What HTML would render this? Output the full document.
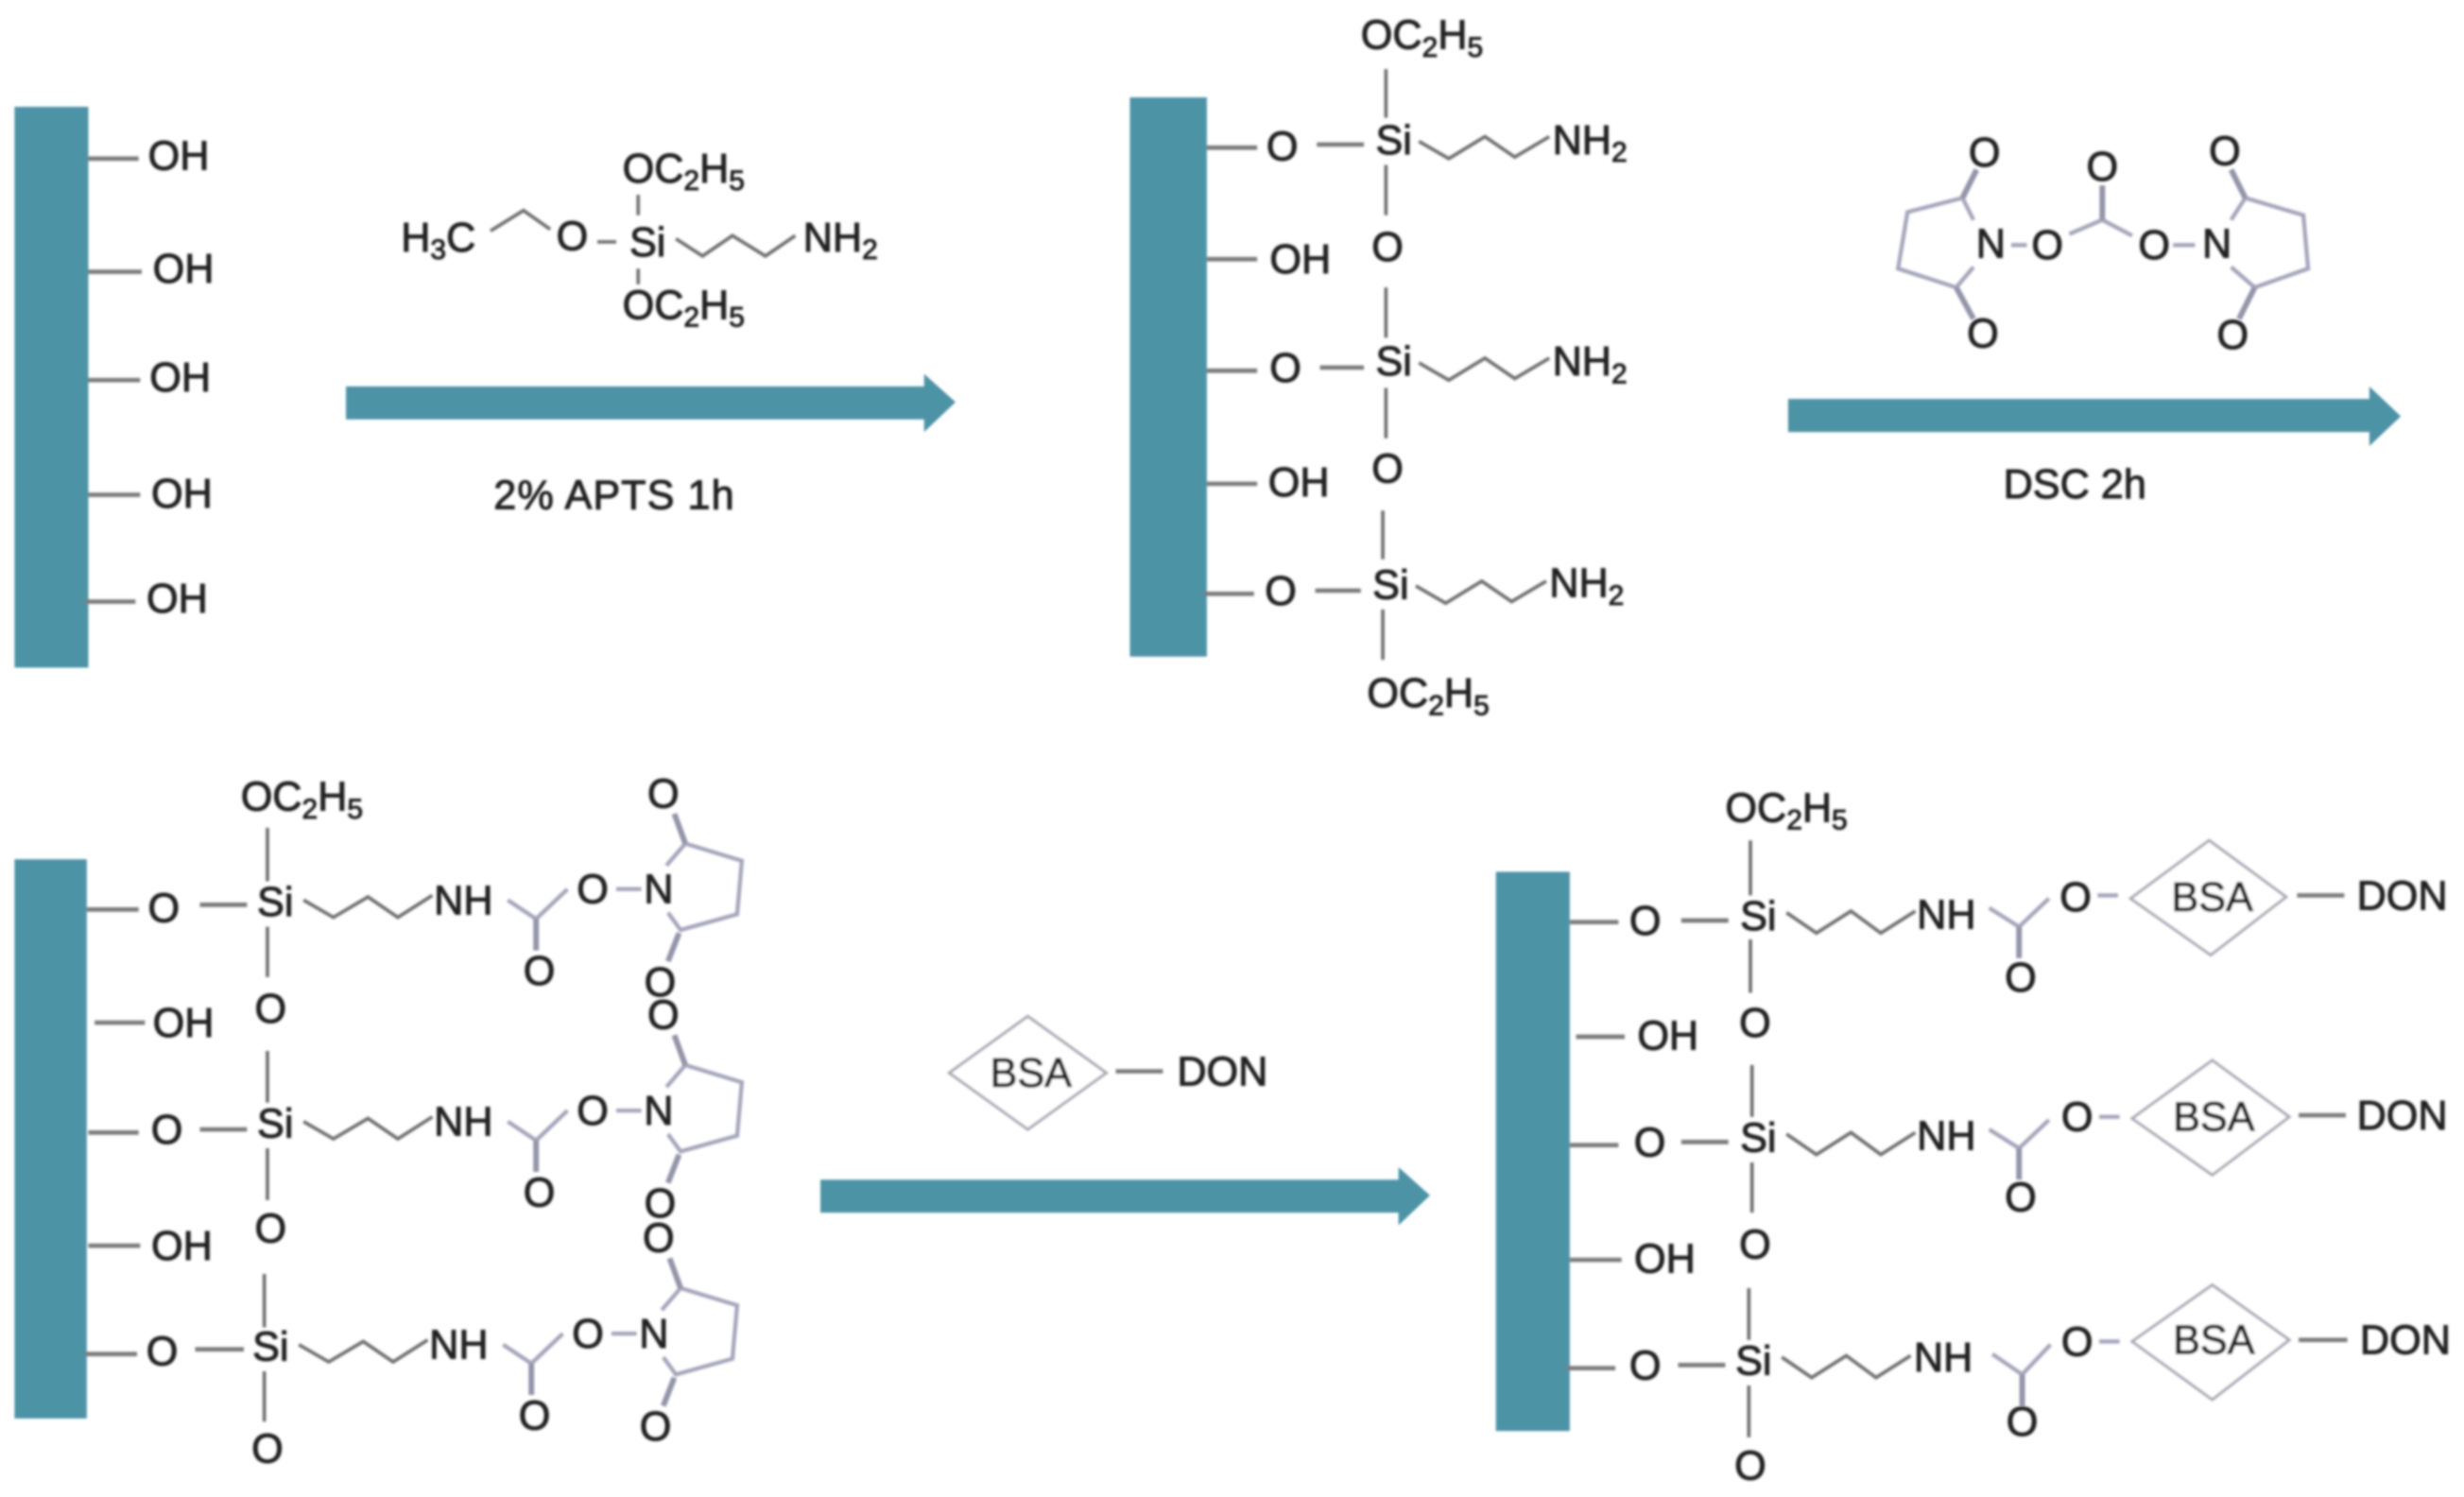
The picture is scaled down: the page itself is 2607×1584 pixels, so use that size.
<!DOCTYPE html>
<html><head><meta charset="utf-8"><style>
html,body{margin:0;padding:0;background:#fff}
svg{display:block;position:absolute;left:0;top:0}
text{font-family:"Liberation Sans",sans-serif;font-size:26px;fill:#202020;stroke:#202020;stroke-width:.6px}
.m{text-anchor:middle}
.s{font-size:18px}
.b{stroke:#6f6f6f;stroke-width:2.2;fill:none}
.h{stroke:#7c7c7c;stroke-width:2.8;fill:none}
.r{stroke:#a6a6bc;stroke-width:2.6;fill:none}
.c{stroke:#9494aa;stroke-width:3.6;fill:none}
.d{stroke:#a9a9b4;stroke-width:1.8;fill:#fff}
.p{fill:#4d93a6}
</style></head><body>
<svg width="2607" height="1584" viewBox="0 0 1568 953" xmlns="http://www.w3.org/2000/svg">
<defs><filter id="f" x="-2%" y="-2%" width="104%" height="104%"><feGaussianBlur stdDeviation="0.75"/></filter></defs>
<rect width="1568" height="953" fill="#fff"/>
<g filter="url(#f)">

<!-- Panel 1 -->
<rect class="p" x="9" y="68" width="47" height="357"/>
<path class="h" d="M56 101H88M56 173H90M56 242H89M56 315H89M54 383H86"/>
<text x="94" y="108">OH</text><text x="97" y="180">OH</text><text x="95" y="249">OH</text><text x="96" y="323">OH</text><text x="93" y="390">OH</text>

<!-- APTS -->
<text x="255" y="160">H<tspan class="s" dy="5">3</tspan><tspan dy="-5">C</tspan></text>
<path class="b" d="M312 147L333 134L350 146M380 154H392M406 124V137M406 171V181M430 152L447 163L466 150L487 163L506 150"/>
<text class="m" x="364" y="159">O</text>
<text class="m" x="412" y="163">Si</text>
<text x="511" y="160">NH<tspan class="s" dy="5">2</tspan></text>
<text x="396" y="116">OC<tspan class="s" dy="5">2</tspan><tspan dy="-5">H</tspan><tspan class="s" dy="5">5</tspan></text>
<text x="396" y="203">OC<tspan class="s" dy="5">2</tspan><tspan dy="-5">H</tspan><tspan class="s" dy="5">5</tspan></text>

<!-- Arrow 1 -->
<path class="p" d="M220 246H588V238L608 256L588 275V267H220Z"/>
<text x="314" y="324" textLength="153">2% APTS 1h</text>

<!-- Panel 2 -->
<rect class="p" x="719" y="62" width="49" height="356"/>
<text x="866" y="31">OC<tspan class="s" dy="5">2</tspan><tspan dy="-5">H</tspan><tspan class="s" dy="5">5</tspan></text>
<path class="b" d="M882 44V75M882 105V137M882 183V215M882 247V279M880 325V356M880 388V420"/>
<path class="h" d="M768 94H800M838 92H868M768 165H800M768 236H800M840 234H868M768 308H800M766 378H798M837 376H866"/>
<text class="m" x="816" y="102">O</text><text class="m" x="883" y="166">O</text><text class="m" x="818" y="243">O</text><text class="m" x="883" y="307">O</text><text class="m" x="815" y="385">O</text>
<text x="808" y="174">OH</text><text x="807" y="316">OH</text>
<text class="m" x="887" y="98">Si</text><text class="m" x="887" y="239">Si</text><text class="m" x="885" y="381">Si</text>
<path class="b" d="M903 90L922 101L945 87L964 100L986 87M903 231L922 242L945 228L964 241L986 228M901 373L920 384L943 370L962 383L984 370"/>
<text x="988" y="98">NH<tspan class="s" dy="5">2</tspan></text>
<text x="988" y="239">NH<tspan class="s" dy="5">2</tspan></text>
<text x="986" y="380">NH<tspan class="s" dy="5">2</tspan></text>
<text x="870" y="450">OC<tspan class="s" dy="5">2</tspan><tspan dy="-5">H</tspan><tspan class="s" dy="5">5</tspan></text>

<!-- DSC -->
<path class="r" d="M1256 140L1249 126L1214 135L1208 171L1245 183L1256 170M1420 140L1429 126L1466 137L1469 171L1435 183L1420 170M1280 156H1290M1383 156H1397M1317 149L1338 140L1357 150"/>
<path class="c" d="M1249 126L1258 108M1245 183L1256 203M1429 126L1420 108M1435 183L1425 203M1338 140V118"/>
<text class="m" x="1267" y="164">N</text><text class="m" x="1303" y="165">O</text><text class="m" x="1371" y="165">O</text><text class="m" x="1411" y="164">N</text>
<text class="m" x="1263" y="106">O</text><text class="m" x="1338" y="115">O</text><text class="m" x="1416" y="105">O</text><text class="m" x="1262" y="221">O</text><text class="m" x="1421" y="222">O</text>

<!-- Arrow 2 -->
<path class="p" d="M1138 254H1508V246L1528 265L1508 284V275H1138Z"/>
<text x="1275" y="317">DSC 2h</text>

<!-- Panel 3 -->
<rect class="p" x="9" y="547" width="46" height="356"/>
<text x="153" y="516">OC<tspan class="s" dy="5">2</tspan><tspan dy="-5">H</tspan><tspan class="s" dy="5">5</tspan></text>
<path class="b" d="M170 527V561M170 590V622M170 669V702M170 731V764M168 811V845M168 873V905"/>
<path class="h" d="M55 579H88M127 576H157M60 651H92M56 721H88M127 719H157M56 793H89M54 862H87M124 859H155"/>
<text class="m" x="104" y="587">O</text><text class="m" x="172" y="651">O</text><text class="m" x="106" y="728">O</text><text class="m" x="172" y="791">O</text><text class="m" x="103" y="869">O</text><text class="m" x="170" y="931">O</text>
<text x="97" y="660">OH</text><text x="96" y="802">OH</text>
<text class="m" x="175" y="583">Si</text><text class="m" x="175" y="724">Si</text><text class="m" x="172" y="866">Si</text>

<g>
<path class="b" d="M193 573L212 584L234 571L253 584L275 570"/>
<text x="276" y="582">NH</text>
<path class="r" d="M323 573L341 585L361 566M392 566H408M424 551L436 537L472 548L469 582L433 592L425 581"/>
<path class="c" d="M341 585V605M429 518L436 537M432 594L425 612"/>
<text class="m" x="343" y="627">O</text><text class="m" x="377" y="575">O</text><text class="m" x="419" y="575">N</text><text class="m" x="422" y="514">O</text><text class="m" x="420" y="634">O</text>
</g>
<g transform="translate(0,141)">
<path class="b" d="M193 573L212 584L234 571L253 584L275 570"/>
<text x="276" y="582">NH</text>
<path class="r" d="M323 573L341 585L361 566M392 566H408M424 551L436 537L472 548L469 582L433 592L425 581"/>
<path class="c" d="M341 585V605M429 518L436 537M432 594L425 612"/>
<text class="m" x="343" y="627">O</text><text class="m" x="377" y="575">O</text><text class="m" x="419" y="575">N</text><text class="m" x="422" y="514">O</text><text class="m" x="420" y="634">O</text>
</g>
<g transform="translate(-3,283)">
<path class="b" d="M193 573L212 584L234 571L253 584L275 570"/>
<text x="276" y="582">NH</text>
<path class="r" d="M323 573L341 585L361 566M392 566H408M424 551L436 537L472 548L469 582L433 592L425 581"/>
<path class="c" d="M341 585V605M429 518L436 537M432 594L425 612"/>
<text class="m" x="343" y="627">O</text><text class="m" x="377" y="575">O</text><text class="m" x="419" y="575">N</text><text class="m" x="422" y="514">O</text><text class="m" x="420" y="634">O</text>
</g>

<!-- BSA-DON reagent -->
<path class="d" d="M604 683L654 647L704 683L654 719Z"/>
<text class="m" x="656" y="692">BSA</text>
<path class="h" d="M710 682H740"/>
<text x="749" y="691">DON</text>

<!-- Arrow 3 -->
<path class="p" d="M522 751H890V743L910 761L890 780V772H522Z"/>

<!-- Panel 4 -->
<rect class="p" x="952" y="555" width="47" height="356"/>
<text x="1098" y="523">OC<tspan class="s" dy="5">2</tspan><tspan dy="-5">H</tspan><tspan class="s" dy="5">5</tspan></text>
<path class="b" d="M1114 535V570M1114 598V632M1115 678V711M1115 740V772M1113 820V853M1113 882V915"/>
<path class="h" d="M999 587H1030M1070 586H1100M1003 660H1034M999 729H1030M1070 727H1100M999 802H1032M997 871H1028M1068 869H1098"/>
<text class="m" x="1047" y="595">O</text><text class="m" x="1117" y="660">O</text><text class="m" x="1050" y="736">O</text><text class="m" x="1117" y="801">O</text><text class="m" x="1047" y="878">O</text><text class="m" x="1114" y="942">O</text>
<text x="1042" y="668">OH</text><text x="1040" y="810">OH</text>
<text class="m" x="1119" y="592">Si</text><text class="m" x="1119" y="733">Si</text><text class="m" x="1116" y="875">Si</text>

<path class="b" d="M1137 581L1156 594L1178 580L1197 594L1219 580"/>
<text x="1220" y="591">NH</text>
<path class="r" d="M1266 578L1285 590L1304 572M1335 570H1348"/>
<path class="c" d="M1285 590V610"/>
<text class="m" x="1286" y="631">O</text><text class="m" x="1321" y="580">O</text>
<path class="d" d="M1356 572L1406 535L1455 571L1407 608Z"/>
<text class="m" x="1408" y="580">BSA</text>
<path class="h" d="M1462 570H1492"/>
<text x="1500" y="579">DON</text>

<path class="b" d="M1137 722L1156 735L1178 721L1197 735L1219 721"/>
<text x="1220" y="732">NH</text>
<path class="r" d="M1266 719L1285 731L1304 713M1336 711H1349"/>
<path class="c" d="M1285 731V751"/>
<text class="m" x="1286" y="771">O</text><text class="m" x="1322" y="720">O</text>
<path class="d" d="M1357 712L1408 675L1457 711L1408 748Z"/>
<text class="m" x="1409" y="720">BSA</text>
<path class="h" d="M1463 710H1493"/>
<text x="1500" y="719">DON</text>

<path class="b" d="M1134 864L1153 877L1175 863L1194 877L1216 863"/>
<text x="1218" y="873">NH</text>
<path class="r" d="M1268 862L1287 875L1305 856M1336 854H1349"/>
<path class="c" d="M1287 875V895"/>
<text class="m" x="1287" y="914">O</text><text class="m" x="1322" y="863">O</text>
<path class="d" d="M1357 854L1408 818L1457 853L1408 891Z"/>
<text class="m" x="1409" y="862">BSA</text>
<path class="h" d="M1463 853H1494"/>
<text x="1502" y="862">DON</text>
</g>
</svg>
</body></html>
